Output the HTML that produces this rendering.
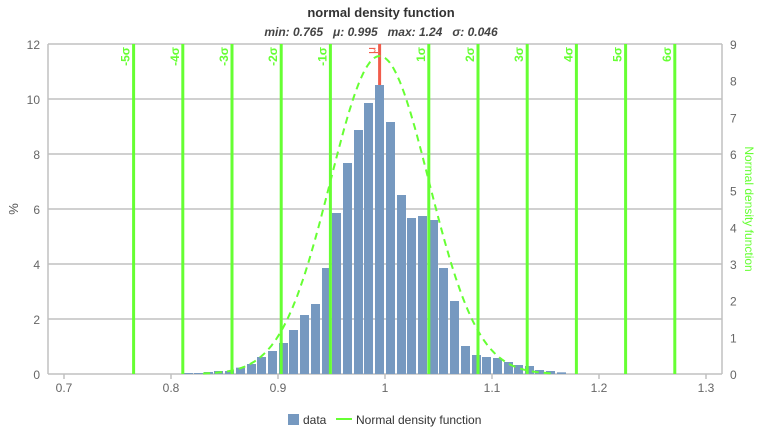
<!DOCTYPE html>
<html><head><meta charset="utf-8"><style>
body{margin:0;background:#fff;}
svg{display:block;font-family:"Liberation Sans",sans-serif;}
</style></head><body>
<svg id="s" width="762" height="427" viewBox="0 0 762 427" xmlns="http://www.w3.org/2000/svg">
<text x="381" y="17" text-anchor="middle" font-size="13" font-weight="bold" fill="#333">normal density function</text>
<text x="381" y="36" text-anchor="middle" font-size="12" font-weight="bold" font-style="italic" fill="#444">min: 0.765 &#160; μ: 0.995 &#160; max: 1.24 &#160; σ: 0.046</text>
<g id="grid"></g>
<g id="bars"></g>
<g id="sig"></g>
<g id="ax"></g>
<path id="curve" fill="none" stroke="#66ff33" stroke-width="2" stroke-dasharray="7,5"/>
<text transform="translate(18,209) rotate(-90)" text-anchor="middle" font-size="13" fill="#555">%</text>
<text transform="translate(745,209) rotate(90)" text-anchor="middle" font-size="12" fill="#66ff33">Normal density function</text>
<rect x="288" y="414" width="11" height="11" fill="#7699c0"/>
<text x="303" y="424" font-size="12" fill="#333">data</text>
<line x1="336" y1="419" x2="352" y2="419" stroke="#66ff33" stroke-width="2"/>
<text x="356" y="424" font-size="12" fill="#333">Normal density function</text>
</svg>
<script>
const NS="http://www.w3.org/2000/svg";
function el(p,t,a,txt){const e=document.createElementNS(NS,t);for(const k in a)e.setAttribute(k,a[k]);if(txt!==undefined)e.textContent=txt;document.getElementById(p).appendChild(e);return e;}
const T=44,B=374,L=48,R=722;
for(let i=0;i<=6;i++){const y=B-i*55;el('grid','line',{x1:L,x2:R,y1:y,y2:y,stroke:'#c0c0c0','stroke-width':1.5});
el('ax','text',{x:40,y:y+5,'text-anchor':'end','font-size':12,fill:'#666'},String(i*2));}
for(let i=0;i<=9;i++){const y=B-i*330/9;el('ax','text',{x:730,y:y+5,'font-size':12,fill:'#666'},String(i));}
el('grid','line',{x1:L,x2:L,y1:T,y2:B,stroke:'#c0c0c0','stroke-width':1.5});
el('grid','line',{x1:R,x2:R,y1:T,y2:B,stroke:'#c0c0c0','stroke-width':1.5});
const xs=v=>64+(v-0.7)*1070;
[0.7,0.8,0.9,1.0,1.1,1.2,1.3].forEach(v=>{const x=xs(v);el('ax','line',{x1:x,x2:x,y1:B,y2:B+5,stroke:'#c0c0c0','stroke-width':1.5});
el('ax','text',{x:x,y:B+18,'text-anchor':'middle','font-size':12,fill:'#666'},v===1?'1':v.toFixed(1));});
const bars=[[12,999],[42,999],[72,996],[102,993],[135,993],[168,983],[201,972],[231,951],[264,933],[297,909],[327,870],[360,825],[393,792],[426,684],[456,519],[489,369],[522,270],[552,189],[585,135],[618,246],[651,465],[681,534],[714,528],[747,540],[777,684],[810,783],[843,918],[876,945],[906,951],[939,954],[972,966],[1002,975],[1035,978],[1065,990],[1098,993],[1131,997]];
bars.forEach(([l,t])=>{const x=180+l/3,y=40+t/3;el('bars','rect',{x:x,y:y,width:9,height:B-y,fill:'#7699c0'});});
const mu=379.6,s=49.2;
for(let k=-5;k<=6;k++){if(k===0)continue;const x=mu+k*s;
el('sig','line',{x1:x,x2:x,y1:T,y2:B,stroke:'#66ff33','stroke-width':3});
el('sig','text',{transform:`translate(${x-4},${T+3}) rotate(-90)`,'text-anchor':'end','font-size':12,'font-weight':'bold',fill:'#66ff33'},(k>0?'':'-')+Math.abs(k)+'σ');}
el('sig','line',{x1:mu,x2:mu,y1:T,y2:85,stroke:'#f15c4b','stroke-width':3});
el('sig','text',{transform:`translate(${mu-4},${T+3}) rotate(-90)`,'text-anchor':'end','font-size':12,fill:'#f15c4b'},'μ');
let d='';const sg=0.046,m=0.995;
for(let v=0.83;v<=1.16;v+=0.002){const p=Math.exp(-0.5*((v-m)/sg)**2)/(sg*Math.sqrt(2*Math.PI));const x=xs(v),y=B-p*330/9;d+=(d?'L':'M')+x.toFixed(1)+','+y.toFixed(1);}
document.getElementById('curve').setAttribute('d',d);
</script>
</body></html>
